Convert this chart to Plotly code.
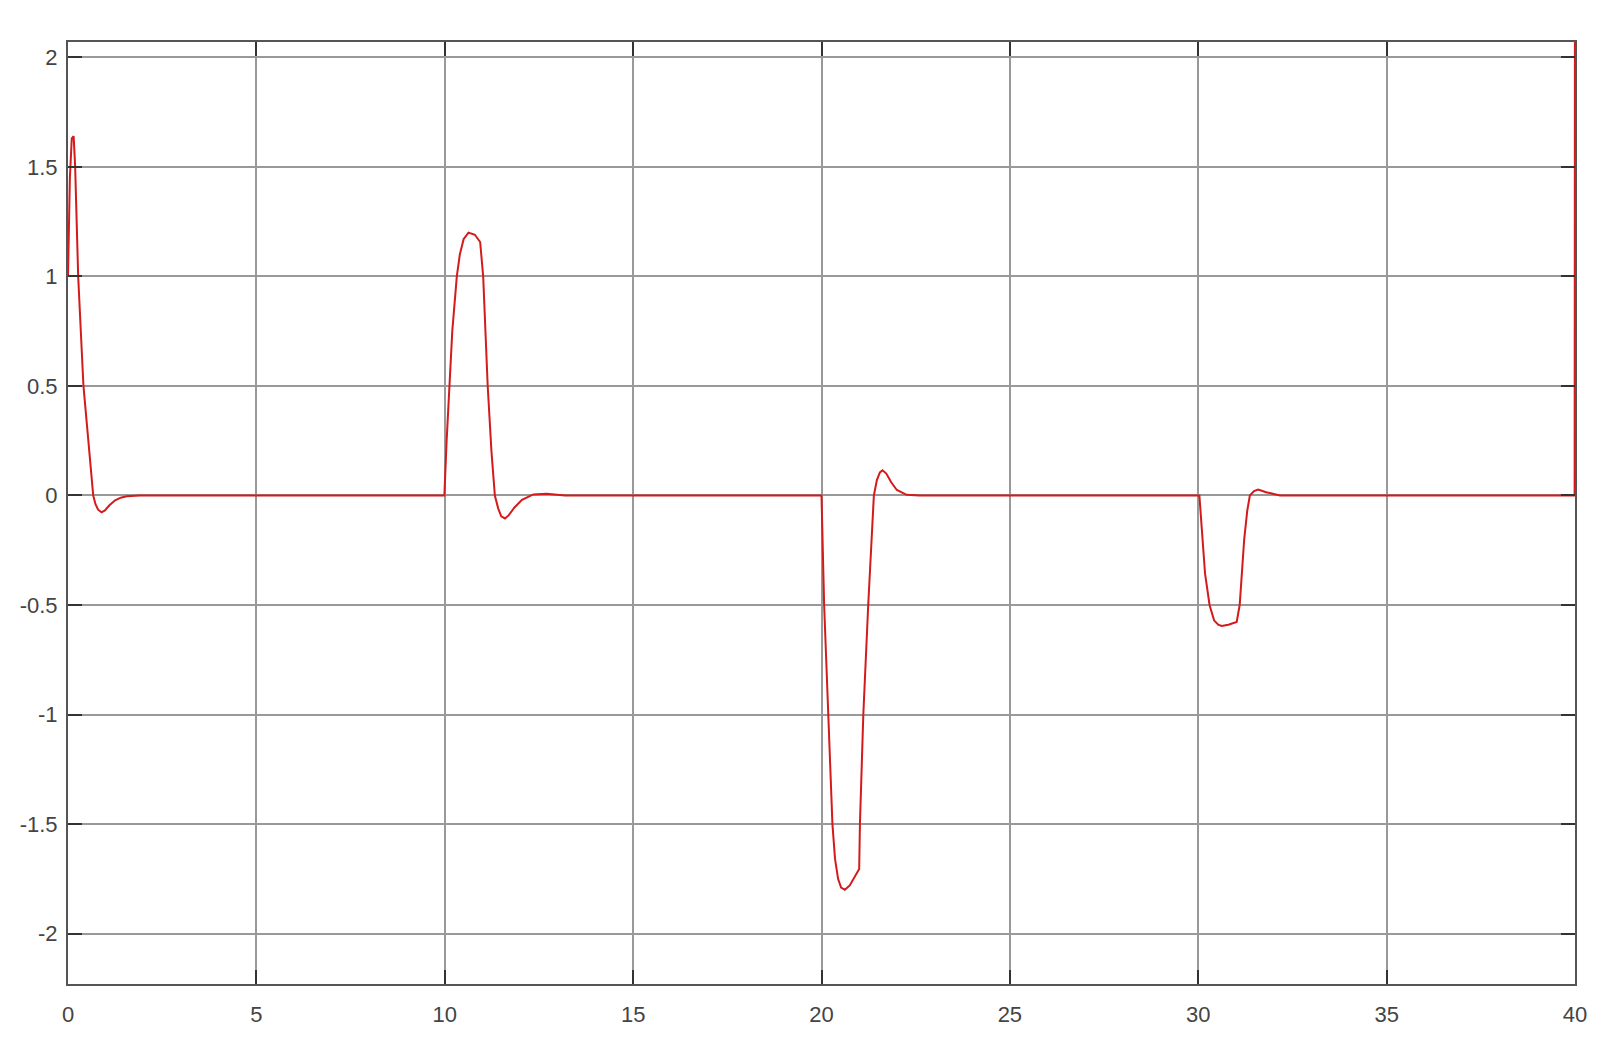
import plotly.graph_objects as go

# response (time, value)
t = [0.0, 0.05, 0.1, 0.15, 0.19, 0.27, 0.41, 0.55, 0.67, 0.73, 0.8, 0.89, 0.98, 1.1, 1.25, 1.4, 1.56, 1.9,
     9.99, 10.05, 10.12, 10.2, 10.32, 10.4, 10.5, 10.63, 10.8, 10.94, 11.02, 11.14, 11.24, 11.33,
     11.42, 11.5, 11.6, 11.7, 11.85, 12.05, 12.35, 12.7, 13.2,
     20.0, 20.07, 20.18, 20.29, 20.36, 20.44, 20.52, 20.62, 20.75, 20.88, 21.0, 21.02, 21.11, 21.24,
     21.39, 21.47, 21.55, 21.62, 21.72, 21.85, 22.0, 22.26, 22.6,
     30.03, 30.1, 30.18, 30.3, 30.42, 30.53, 30.62, 30.8, 31.02, 31.1, 31.15, 31.22, 31.3, 31.37,
     31.48, 31.59, 31.8, 32.17, 32.6, 39.99, 40.0]
y = [1.0, 1.45, 1.63, 1.64, 1.5, 1.0, 0.5, 0.22, 0.0, -0.04, -0.065, -0.077, -0.068, -0.045, -0.022, -0.01, -0.004, 0.0,
     0.0, 0.25, 0.5, 0.75, 1.0, 1.1, 1.17, 1.2, 1.19, 1.157, 1.0, 0.5, 0.2, 0.0,
     -0.06, -0.095, -0.105, -0.09, -0.055, -0.02, 0.005, 0.008, 0.0,
     0.0, -0.5, -1.0, -1.5, -1.66, -1.75, -1.79, -1.80, -1.78, -1.74, -1.705, -1.5, -1.0, -0.5,
     0.0, 0.07, 0.105, 0.115, 0.1, 0.06, 0.025, 0.003, 0.0,
     0.0, -0.15, -0.356, -0.5, -0.57, -0.59, -0.596, -0.59, -0.577, -0.5, -0.356, -0.2, -0.07, 0.0,
     0.02, 0.027, 0.015, 0.0, 0.0, 0.0, 2.5]

x_ticks = [0, 5, 10, 15, 20, 25, 30, 35, 40]
y_ticks = [-2, -1.5, -1, -0.5, 0, 0.5, 1, 1.5, 2]
y_labels = ["-2", "-1.5", "-1", "-0.5", "0", "0.5", "1", "1.5", "2"]

fig = go.Figure()
fig.add_trace(go.Scatter(x=t, y=y, mode="lines", line=dict(color="#d41a1a", width=2),
                         showlegend=False))

axis_style = dict(
    showgrid=True, gridcolor="#999999", gridwidth=1.5, zeroline=False,
    showline=True, linecolor="#555555", linewidth=2, mirror="ticks",
    ticks="inside", ticklen=14, tickcolor="#333333", tickwidth=1.5,
    tickfont=dict(family="Liberation Sans, Arial", size=22, color="#444444"),
    automargin=False,
)
fig.update_xaxes(range=[0, 40], tickvals=x_ticks, ticklabelstandoff=10, **axis_style)
fig.update_yaxes(range=[-2.23, 2.07], tickvals=y_ticks, ticktext=y_labels, ticklabelstandoff=4, **axis_style)

# page body adds an 8px margin, so the figure is a bit smaller than the window
fig.update_layout(
    width=1601, height=1030,
    margin=dict(l=60, r=34, t=34, b=54),
    plot_bgcolor="white", paper_bgcolor="white",
)
fig.write_html("out.html")
